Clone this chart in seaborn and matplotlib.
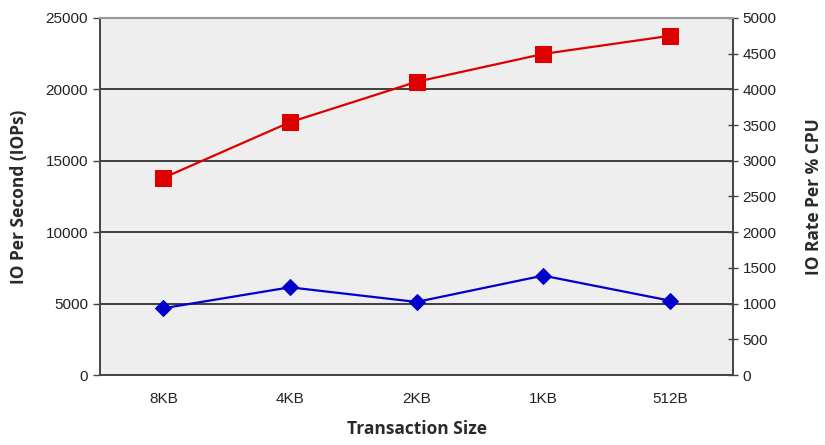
import pandas as pd
import matplotlib.pyplot as plt
import seaborn as sns

# data
tamanhos = ["8KB", "4KB", "2KB", "1KB", "512B"]
iops = [13800, 17700, 20530, 22480, 23750]
io_por_cpu = [935, 1228, 1023, 1392, 1042]

df = pd.DataFrame({"tamanho": tamanhos, "iops": iops, "cpu": io_por_cpu})

sns.set_style("white")
plt.rcParams["font.family"] = ["Liberation Sans", "DejaVu Sans"]

fig = plt.figure(figsize=(8.25, 4.45), dpi=100)
ax = fig.add_axes([0.1212, 0.1573, 0.8885 - 0.1212, 0.9596 - 0.1573])
ax.set_facecolor("#eeeeee")
ax2 = ax.twinx()

sns.lineplot(data=df, x="tamanho", y="iops", ax=ax, color="#dd0000",
             marker="s", markersize=11, markeredgecolor="#dd0000",
             linewidth=1.6, sort=False)
sns.lineplot(data=df, x="tamanho", y="cpu", ax=ax2, color="#0000cc",
             marker="D", markersize=8, markeredgecolor="#0000cc",
             linewidth=1.6, sort=False)

# eixos
ax.set_xlim(-0.5, 4.5)
ax.set_ylim(0, 25000)
ax2.set_ylim(0, 5000)
ax.set_yticks(range(0, 25001, 5000))
ax2.set_yticks(range(0, 5001, 500))
ax.set_xticks(range(len(tamanhos)))
ax.set_xticklabels(tamanhos)
ax.set_xticks([i - 0.5 for i in range(len(tamanhos) + 1)], minor=True)

ax.grid(axis="y", color="#111111", linewidth=1.1)
ax.set_axisbelow(True)

ax.tick_params(axis="x", which="major", length=0, pad=12, labelsize=11, labelcolor="#222222")
ax.tick_params(axis="x", which="minor", length=6, width=1, direction="inout", color="#444444")
ax.tick_params(axis="y", length=5, width=1, color="#444444", labelsize=11, labelcolor="#222222")
ax2.tick_params(axis="y", length=7, width=1, direction="inout", color="#444444",
                labelsize=11, labelcolor="#222222")

for a in (ax, ax2):
    for lado in ["left", "right", "bottom"]:
        a.spines[lado].set_color("#444444")
        a.spines[lado].set_linewidth(1.2)
    a.spines["top"].set_color("#999999")
    a.spines["top"].set_linewidth(1.5)

fonte_rotulo = dict(family=["Open Sans", "DejaVu Sans"], fontweight="bold",
                    fontsize=12.5, color="#2a2a2a")
ax.set_xlabel("Transaction Size", labelpad=10, **fonte_rotulo)
ax.set_ylabel("IO Per Second (IOPs)", labelpad=13, **fonte_rotulo)
ax2.set_ylabel("IO Rate Per % CPU", labelpad=20, **fonte_rotulo)

plt.savefig("out.png", dpi=100)
